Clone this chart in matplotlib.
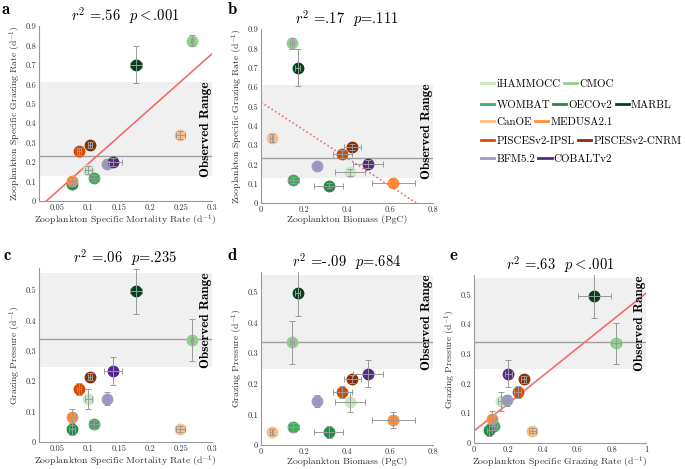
import numpy as np
import matplotlib
matplotlib.use("Agg")
import matplotlib.pyplot as plt
from matplotlib.lines import Line2D

plt.rcParams['font.family'] = 'serif'
plt.rcParams['font.serif'] = ['cmr10', 'DejaVu Serif']
plt.rcParams['mathtext.fontset'] = 'cm'
plt.rcParams['axes.formatter.use_mathtext'] = True

models = ['iHAMMOCC', 'CMOC', 'WOMBAT', 'OECOv2', 'MARBL', 'CanOE', 'MEDUSA2.1',
          'PISCESv2-IPSL', 'PISCESv2-CNRM', 'BFM5.2', 'COBALTv2']
colors = ['#c7e9c0', '#8fd18a', '#41ab5d', '#238b45', '#00441b', '#fdbe85', '#fd8d3c',
          '#d94801', '#8c2d04', '#9e9ac8', '#54278f']

# per-model values
mortality = [0.100, 0.268, 0.109, 0.074, 0.177, 0.249, 0.074, 0.085, 0.102, 0.130, 0.140]
mortality_err = [0.005, 0.002, 0.008, 0.005, 0.010, 0.007, 0.006, 0.003, 0.003, 0.004, 0.015]
grazing = [0.158, 0.825, 0.117, 0.090, 0.700, 0.338, 0.105, 0.255, 0.290, 0.190, 0.200]
grazing_err = [0.020, 0.030, 0.015, 0.015, 0.095, 0.020, 0.020, 0.020, 0.015, 0.015, 0.020]
biomass = [0.413, 0.145, 0.150, 0.315, 0.170, 0.050, 0.615, 0.378, 0.425, 0.260, 0.497]
biomass_err = [0.070, 0.010, 0.025, 0.068, 0.010, 0.008, 0.100, 0.045, 0.040, 0.010, 0.070]
pressure = [0.140, 0.335, 0.058, 0.043, 0.495, 0.042, 0.082, 0.173, 0.215, 0.143, 0.233]
pressure_err = [0.033, 0.070, 0.015, 0.020, 0.073, 0.010, 0.025, 0.020, 0.012, 0.020, 0.045]

# observed ranges (low, high, mean)
obs_grazing = (0.13, 0.61, 0.233)
obs_pressure = (0.248, 0.555, 0.338)

titles = [r'$r^2$ =.56  $p$$<$.001', r'$r^2$ =.17  $p$=.111',
          r'$r^2$ =.06  $p$=.235', r'$r^2$ =-.09  $p$=.684',
          r'$r^2$ =.63  $p$$<$.001']

fig = plt.figure(figsize=(6.85, 4.69), dpi=100)
W, H = 685, 469


def make_ax(l, r, t, b):
    return fig.add_axes([l / W, 1 - b / H, (r - l) / W, (b - t) / H])


panels = [
    dict(pos=(39, 212, 26, 201), x=mortality, xe=mortality_err, y=grazing, ye=grazing_err,
         xlim=(0.02, 0.3), xt=[0.05, 0.1, 0.15, 0.2, 0.25, 0.3], ylim=(0, 0.9),
         yt=np.arange(0, 0.91, 0.1), obs=obs_grazing, fit='-', letter=('a', 2, 10),
         xl=r'Zooplankton Specific Mortality Rate (d$^{-1}$)',
         yl=r'Zooplankton Specific Grazing Rate (d$^{-1}$)'),
    dict(pos=(261, 433, 29, 203), x=biomass, xe=biomass_err, y=grazing, ye=grazing_err,
         xlim=(0, 0.8), xt=[0, 0.2, 0.4, 0.6, 0.8], ylim=(0, 0.9),
         yt=np.arange(0, 0.91, 0.1), obs=obs_grazing, fit=':', letter=('b', 228, 10),
         xl='Zooplankton Biomass (PgC)',
         yl=r'Zooplankton Specific Grazing Rate (d$^{-1}$)'),
    dict(pos=(39, 212, 268, 442), x=mortality, xe=mortality_err, y=pressure, ye=pressure_err,
         xlim=(0.02, 0.3), xt=[0.05, 0.1, 0.15, 0.2, 0.25, 0.3], ylim=(0, 0.572),
         yt=np.arange(0, 0.51, 0.1), obs=obs_pressure, fit=None, letter=('c', 3, 256),
         xl=r'Zooplankton Specific Mortality Rate (d$^{-1}$)',
         yl=r'Grazing Pressure (d$^{-1}$)'),
    dict(pos=(261, 433, 272, 445), x=biomass, xe=biomass_err, y=pressure, ye=pressure_err,
         xlim=(0, 0.8), xt=[0, 0.2, 0.4, 0.6, 0.8], ylim=(0, 0.565),
         yt=np.arange(0, 0.51, 0.1), obs=obs_pressure, fit=None, letter=('d', 228, 256),
         xl='Zooplankton Biomass (PgC)',
         yl=r'Grazing Pressure (d$^{-1}$)'),
    dict(pos=(474, 646, 275, 443), x=grazing, xe=grazing_err, y=pressure, ye=pressure_err,
         xlim=(0, 1), xt=[0, 0.2, 0.4, 0.6, 0.8, 1], ylim=(0, 0.565),
         yt=np.arange(0, 0.51, 0.1), obs=obs_pressure, fit='-', letter=('e', 450, 256),
         xl=r'Zooplankton Specific Grazing Rate (d$^{-1}$)',
         yl=r'Grazing Pressure (d$^{-1}$)'),
]


def fmt(v):
    s = ('%.2f' % v).rstrip('0').rstrip('.')
    return s


for p, title in zip(panels, titles):
    ax = make_ax(*p['pos'])
    lo, hi, mid = p['obs']
    ax.axhspan(lo, hi, color='#f0f0f0', zorder=0, lw=0)
    ax.axhline(mid, color='#a0a0a0', lw=1.0, zorder=1)
    x = np.array(p['x'])
    y = np.array(p['y'])
    if p['fit'] is not None:
        k, b0 = np.polyfit(x, y, 1)
        xx = np.array(p['xlim'])
        if p['fit'] == '-':
            ax.plot(xx, k * xx + b0, color='#f26d6d', lw=1.2, zorder=2)
        else:
            ax.plot(xx, k * xx + b0, color='#f26d6d', lw=1.2, ls=(0, (1, 1.5)), zorder=2)
    for i in range(len(models)):
        ax.plot(x[i], y[i], 'o', ms=7.5, color=colors[i], mec=colors[i], zorder=3)
        ax.errorbar(x[i], y[i], xerr=p['xe'][i], yerr=p['ye'][i], fmt='none',
                    ecolor='#9a9a9a', elinewidth=0.7, capsize=2, capthick=0.7, zorder=4)
    ax.set_xlim(*p['xlim'])
    ax.set_ylim(*p['ylim'])
    ax.set_xticks(p['xt'])
    ax.set_xticklabels([fmt(v) for v in p['xt']])
    ax.set_yticks(p['yt'])
    ax.set_yticklabels([fmt(v) for v in p['yt']])
    ax.tick_params(labelsize=6, length=0, pad=2, colors='#333333')
    for s in ['top', 'right']:
        ax.spines[s].set_visible(False)
    for s in ['left', 'bottom']:
        ax.spines[s].set_color('#999999')
        ax.spines[s].set_linewidth(0.8)
    ax.set_xlabel(p['xl'], fontsize=7, labelpad=0.5, color='#333333')
    ax.set_ylabel(p['yl'], fontsize=7, labelpad=2, color='#333333')
    ax.set_title(title, fontsize=10.5, pad=3)
    ax.text(0.998, (lo + hi) / 2, 'Observed Range', transform=ax.get_yaxis_transform(),
            rotation=90, ha='right', va='center', fontsize=9.5,
            family='cmb10', zorder=5)
    let, lx, ly = p['letter']
    fig.text(lx / W, 1 - ly / H, let, fontsize=12,
             family='cmb10', va='center', ha='left')

# legend rows
rows = [[0, 1], [2, 3, 4], [5, 6], [7, 8], [9, 10]]
row_y = [84, 105, 122, 141, 159]
for row, ry in zip(rows, row_y):
    handles = [Line2D([0], [0], color=colors[i], lw=2) for i in row]
    leg = fig.legend(handles, [models[i] for i in row], loc='center left',
                     bbox_to_anchor=(481 / W, 1 - ry / H), ncol=len(row), frameon=False,
                     fontsize=7.9, handlelength=1.2, handletextpad=0.2, columnspacing=0.3,
                     borderpad=0, borderaxespad=0)

fig.savefig('out.png', dpi=100)
